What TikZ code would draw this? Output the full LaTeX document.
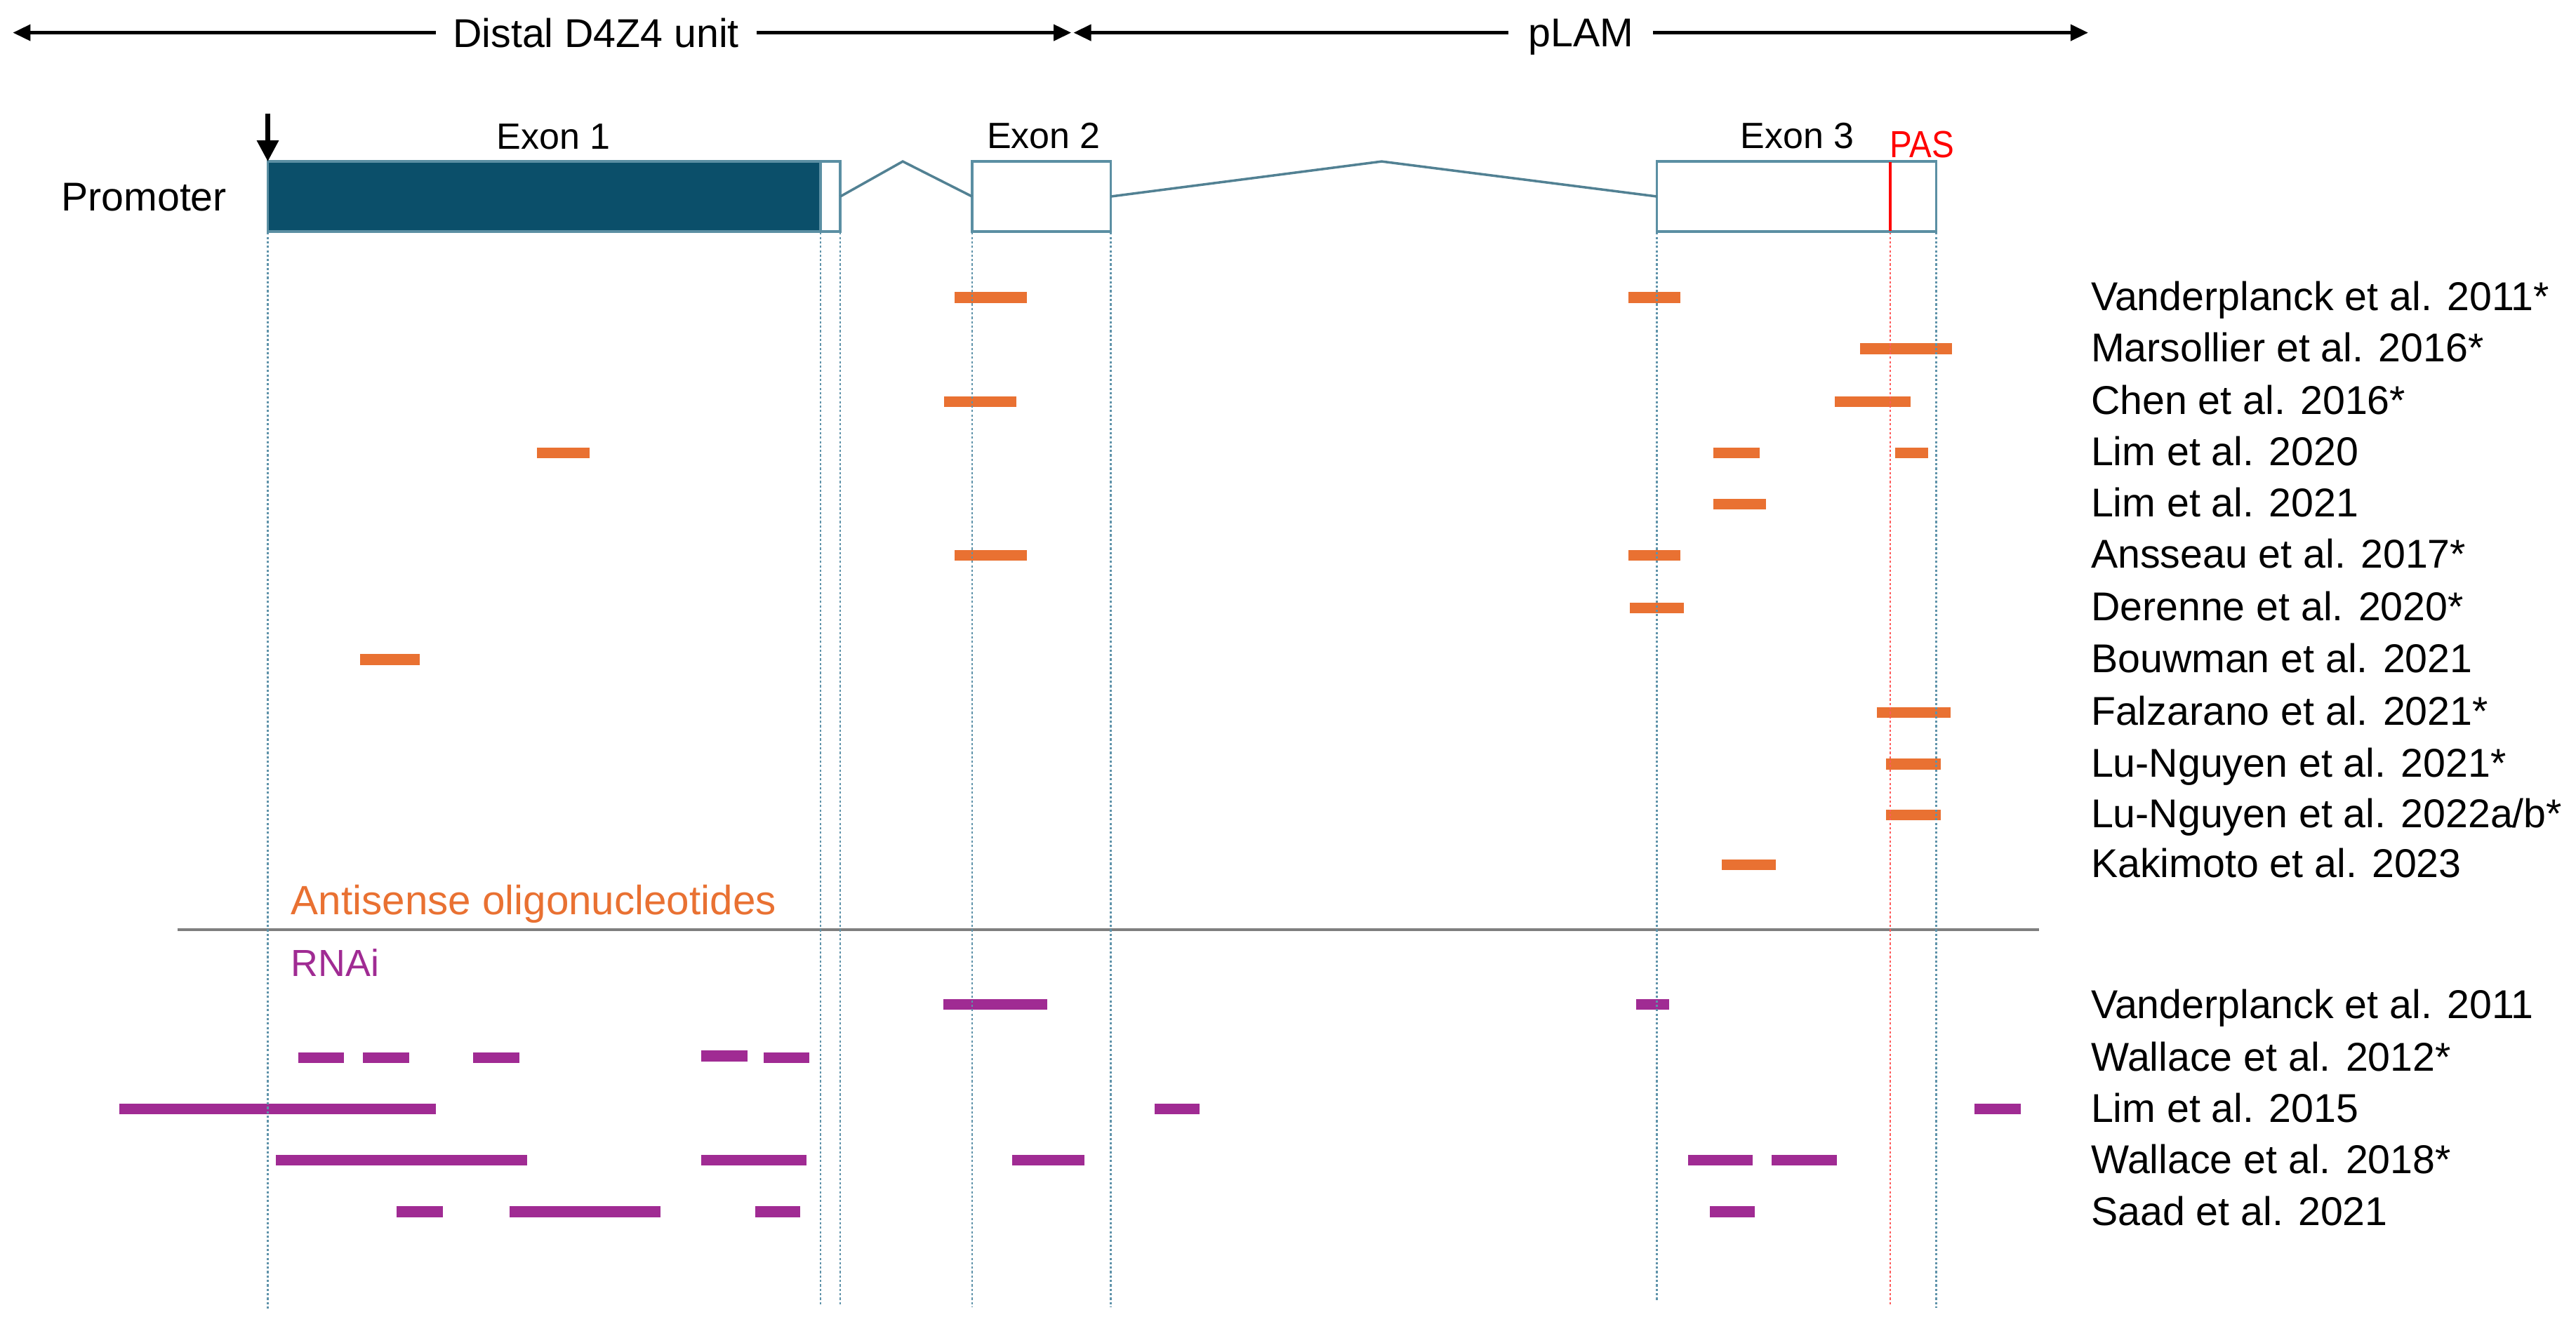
\documentclass[tikz,border=0pt]{standalone}
\usepackage{fontspec}
\setmainfont{Liberation Sans}
\usetikzlibrary{arrows.meta}
\definecolor{asoor}{HTML}{E97132}
\definecolor{rnaipu}{HTML}{A02B93}
\definecolor{exdark}{HTML}{0B4F6A}
\definecolor{exline}{HTML}{5B8FA3}
\definecolor{guideblue}{HTML}{5F93AA}
\definecolor{guidered}{HTML}{FF5C5C}
\definecolor{sepgray}{HTML}{7F7F7F}
\definecolor{pasred}{HTML}{FF0000}
\newcommand\exonnode[4]{\node[exonbox, fill=#4, minimum width={(#3-#2)*0.023406cm}, anchor=north west] (#1) at (#2,98.3) {};}
\begin{document}
\begin{tikzpicture}[x=0.023406cm, y=-0.023406cm,
  lbl/.style={anchor=base west, inner sep=0pt, font=\fontsize{16.3}{19}\selectfont},
  toplbl/.style={fill=white, inner ysep=1pt, inner xsep=7pt, text depth=0pt, font=\fontsize{16.3}{19}\selectfont},
  exlbl/.style={anchor=base, inner sep=0pt, font=\fontsize{14.8}{18}\selectfont},
  toparrow/.style={line width=1.2pt, {Triangle[length=2.5mm,width=2.3mm]}-{Triangle[length=2.5mm,width=2.3mm]}},
  tssarrow/.style={line width=1.8pt, -{Triangle[length=3mm,width=3mm]}},
  exonbox/.style={draw=exline, line width=1pt, rectangle, inner sep=0pt, outer sep=0pt, minimum height=0.9994cm},
  intron/.style={draw=exline!90!black, line width=1pt},
  pasline/.style={draw=pasred, line width=1.3pt},
  guide/.style={draw=guideblue, line width=0.7pt, dash pattern=on 0.9pt off 0.9pt},
  guidered/.style={draw=guidered, line width=0.7pt, dash pattern=on 0.9pt off 0.9pt},
  asobar/.style={fill=asoor},
  rnaibar/.style={fill=rnaipu},
  sepline/.style={draw=sepgray, line width=1.1pt}
]
\useasboundingbox (0,0) rectangle (1568,806);

% top arrows
\coordinate (dl) at (7.9,19.9);
\coordinate (dr) at (652,19.9);
\coordinate (pl) at (653.5,19.9);
\coordinate (pr) at (1271,19.9);
\draw[toparrow] (dl) -- (dr) node[toplbl, pos=0.551] (distal) {Distal D4Z4 unit};
\draw[toparrow] (pl) -- (pr) node[toplbl, pos=0.5, inner xsep=8pt] (plam) {pLAM};

% bars
\foreach \a/\b/\r in {581/625/181.1, 991/1023/181.1,
  1132/1188/212.3,
  574.5/618.5/244.5, 1117/1163/244.5,
  327/359/275.8, 1043/1071/275.8, 1153.6/1173.7/275.8,
  1043/1075/307.0,
  581/625/338.1, 991/1023/338.1,
  992/1025/370.3,
  219/255.5/401.6,
  1142.5/1187.5/433.8,
  1148/1181.5/465.2,
  1148/1181.5/496.3,
  1048/1081/526.5}
  \fill[asobar] (\a,\r-3.3) rectangle (\b,\r+3.3);
\foreach \a/\b/\r in {574/637.5/611.7, 996/1016/611.7,
  181.4/209.4/644, 221/249/644, 288/316/644, 427/455/643, 464.8/492.7/644,
  72.6/265.4/675.2, 702.6/730/675.2, 1202/1230/675.2,
  168/321/706.4, 427/491/706.4, 616/660/706.4, 1027.5/1067/706.4, 1078.5/1118/706.4,
  241.6/269.6/737.9, 310/402/737.9, 459.5/487/737.9, 1040.8/1068/737.9}
  \fill[rnaibar] (\a,\r-3.3) rectangle (\b,\r+3.3);

% separator
\coordinate (sepl) at (108,566);
\coordinate (sepr) at (1241,566);
\draw[sepline] (sepl) -- (sepr);

% guides
\foreach \x/\e in {163/797, 499.5/795.5, 511.5/795.5, 591.7/796, 676.1/796, 1008.6/792.4, 1178.6/796.5}
  \draw[guide] (\x,141.5) -- (\x,\e);
\draw[guidered] (1150.6,141.5) -- (1150.6,794.7);

% gene structure
\exonnode{e1}{163}{499.5}{exdark}
\exonnode{e1u}{499.5}{511.5}{white}
\exonnode{e2}{591.7}{676.1}{white}
\exonnode{e3}{1008.6}{1178.6}{white}
\coordinate (ap1) at (549.5,98.3);
\coordinate (ap2) at (841,98.3);
\draw[intron] (e1u.east) -- (ap1) -- (e2.west);
\draw[intron] (e2.east) -- (ap2) -- (e3.west);
\coordinate (pastop) at (1150.6,98.8);
\coordinate (pasbot) at (1150.6,140.5);
\draw[pasline] (pastop) -- (pasbot);
\coordinate (tss) at (163,69);
\draw[tssarrow] (tss) -- (e1.north west);

% gene labels
\node[lbl] (prom) at (37,128.2) {Promoter};
\node[exlbl] (ex1) at (337,91) {Exon 1};
\node[exlbl] (ex2) at (635.3,90.4) {Exon 2};
\node[exlbl] (ex3) at (1094,90.4) {Exon 3};
\node[exlbl, text=pasred] (pas) at (1169.8,96.1) {\fontsize{15.3}{18}\selectfont\scalebox{0.885}[1]{PAS}};

% section labels
\node[lbl, text=asoor, font=\fontsize{16.6}{19}\selectfont] (asolbl) at (177,556.7) {Antisense oligonucleotides};
\node[lbl, text=rnaipu, font=\fontsize{15.3}{19}\selectfont] (rnailbl) at (177,594.5) {RNAi};

% reference labels
\foreach \r/\t [count=\i] in {181.1/{Vanderplanck et al. 2011*}, 212.3/{Marsollier et al. 2016*},
  244.5/{Chen et al. 2016*}, 275.8/{Lim et al. 2020}, 307.0/{Lim et al. 2021},
  338.1/{Ansseau et al. 2017*}, 370.3/{Derenne et al. 2020*}, 401.6/{Bouwman et al. 2021},
  433.8/{Falzarano et al. 2021*}, 465.2/{Lu-Nguyen et al. 2021*},
  496.3/{Lu-Nguyen et al. 2022a/b*}, 526.5/{Kakimoto et al. 2023}}
  \node[lbl] (aso\i) at (1272.5,\r+7.8) {\t};
\foreach \r/\t [count=\i] in {611.7/{Vanderplanck et al. 2011}, 644/{Wallace et al. 2012*},
  675.2/{Lim et al. 2015}, 706.4/{Wallace et al. 2018*}, 737.9/{Saad et al. 2021}}
  \node[lbl] (rnai\i) at (1272.5,\r+8.3) {\t};
\end{tikzpicture}
\end{document}
